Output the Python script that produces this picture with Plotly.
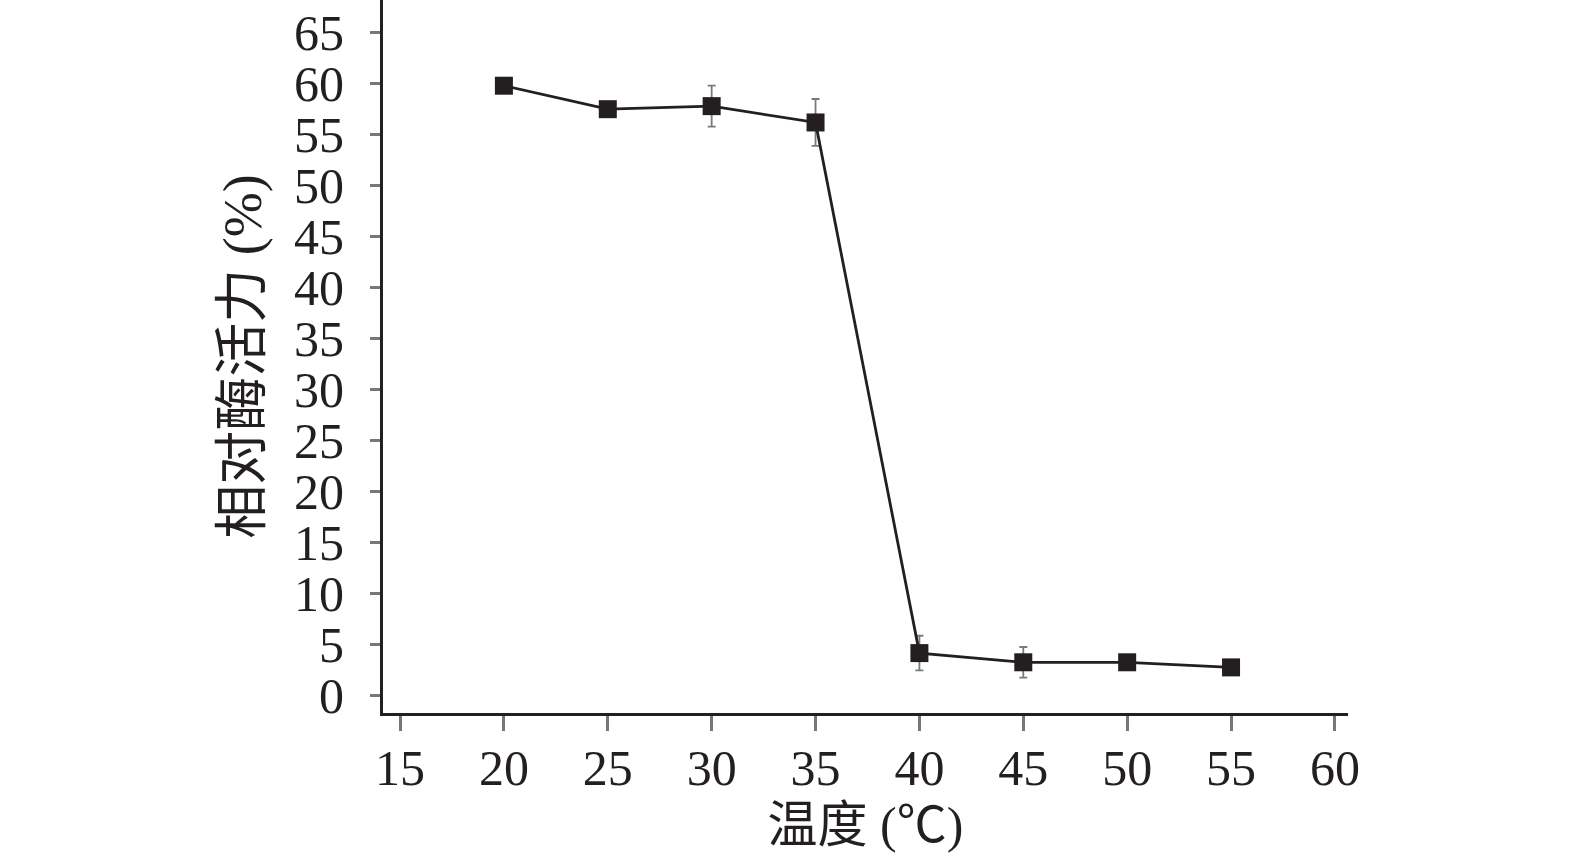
import plotly.graph_objects as go

temps = [20, 25, 30, 35, 40, 45, 50, 55]
activity = [59.8, 57.5, 57.8, 56.2, 4.2, 3.3, 3.3, 2.8]
err = [0.3, 0.4, 2.0, 2.3, 1.7, 1.5, 0.4, 0.3]

x_ticks = [15, 20, 25, 30, 35, 40, 45, 50, 55, 60]
y_ticks = list(range(0, 70, 5))

ink = '#231f20'
font_stack = 'Liberation Serif, Times New Roman, Noto Sans CJK SC, serif'

fig = go.Figure()
fig.add_trace(go.Scatter(
    x=temps, y=activity,
    mode='lines+markers',
    line=dict(color=ink, width=2.8),
    marker=dict(symbol='square', size=18, color=ink),
    error_y=dict(type='data', array=err, visible=True, color='#7a7a7a', thickness=1.8, width=4),
    showlegend=False,
))

fig.update_layout(
    width=1575, height=868,
    margin=dict(l=383, r=227, t=0, b=155),
    plot_bgcolor='white', paper_bgcolor='white',
    font=dict(family=font_stack, color=ink, size=50),
)

fig.update_xaxes(
    range=[14.18, 60.63], tickmode='array', tickvals=x_ticks,
    showline=True, linecolor=ink, linewidth=3, mirror=False,
    ticks='outside', ticklen=15, tickwidth=3, tickcolor='#777777',
    showgrid=False, zeroline=False, automargin=False, ticklabelstandoff=-6,
    tickfont=dict(size=50, family=font_stack),
    title=dict(text='温度 (℃)', font=dict(size=50, family=font_stack), standoff=12),
)
fig.update_yaxes(
    range=[-1.67, 68.2], tickmode='array', tickvals=y_ticks,
    showline=True, linecolor=ink, linewidth=3, mirror=False,
    ticks='outside', ticklen=10, tickwidth=3, tickcolor='#777777',
    showgrid=False, zeroline=False, automargin=False, ticklabelstandoff=16,
    tickfont=dict(size=50, family=font_stack),
    title=dict(text='相对酶活力 (%)', font=dict(size=54, family=font_stack), standoff=16),
)

# drop the browser's default 8px body margin so the figure sits at the page corner
fig.write_html("out.html", config={'displayModeBar': False},
               post_script="document.body.style.margin='0';")
